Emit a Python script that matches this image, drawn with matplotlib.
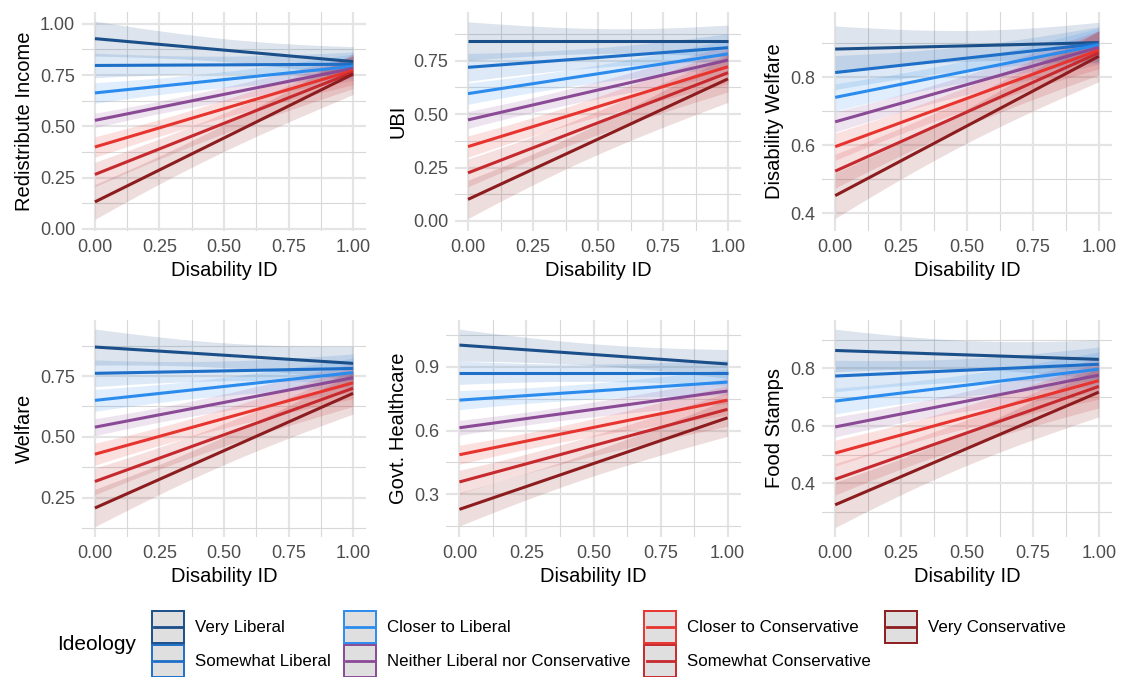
import numpy as np
import matplotlib
matplotlib.use("Agg")
import matplotlib.pyplot as plt
from matplotlib.patches import Rectangle
from matplotlib.lines import Line2D
from matplotlib.legend_handler import HandlerBase

plt.rcParams['font.family'] = ['Liberation Sans', 'DejaVu Sans']

groups = ["Very Liberal", "Somewhat Liberal", "Closer to Liberal",
          "Neither Liberal nor Conservative", "Closer to Conservative",
          "Somewhat Conservative", "Very Conservative"]
colors = ["#1B4F8A", "#1E6FC8", "#2B8CEE", "#8A4A96",
          "#E8342F", "#C62A2E", "#8C1C1E"]

titles = ["Redistribute Income", "UBI", "Disability Welfare",
          "Welfare", "Govt. Healthcare", "Food Stamps"]

# predicted values at Disability ID = 0 and = 1
redist_y0 = [0.928, 0.797, 0.663, 0.529, 0.399, 0.265, 0.131]
redist_y1 = [0.816, 0.803, 0.793, 0.783, 0.773, 0.764, 0.755]
ubi_y0 = [0.842, 0.719, 0.596, 0.473, 0.348, 0.225, 0.101]
ubi_y1 = [0.842, 0.811, 0.782, 0.753, 0.722, 0.694, 0.665]
dwelf_y0 = [0.883, 0.814, 0.741, 0.669, 0.596, 0.524, 0.452]
dwelf_y1 = [0.902, 0.899, 0.895, 0.888, 0.880, 0.872, 0.862]
welf_y0 = [0.869, 0.761, 0.650, 0.540, 0.429, 0.317, 0.208]
welf_y1 = [0.802, 0.781, 0.764, 0.743, 0.722, 0.700, 0.679]
health_y0 = [1.002, 0.872, 0.743, 0.613, 0.486, 0.358, 0.229]
health_y1 = [0.913, 0.872, 0.828, 0.786, 0.743, 0.700, 0.660]
food_y0 = [0.862, 0.773, 0.686, 0.596, 0.505, 0.414, 0.325]
food_y1 = [0.831, 0.814, 0.797, 0.776, 0.757, 0.737, 0.717]

# confidence half-widths at Disability ID = 0 and = 1
redist_w0 = [0.085, 0.06, 0.05, 0.035, 0.05, 0.06, 0.085]
redist_w1 = [0.073, 0.06, 0.06, 0.06, 0.07, 0.08, 0.10]
ubi_w0 = [0.09, 0.065, 0.05, 0.04, 0.05, 0.065, 0.09]
ubi_w1 = [0.075, 0.065, 0.065, 0.07, 0.08, 0.09, 0.11]
dwelf_w0 = [0.068, 0.05, 0.04, 0.03, 0.04, 0.05, 0.067]
dwelf_w1 = [0.06, 0.05, 0.05, 0.05, 0.055, 0.065, 0.075]
welf_w0 = [0.074, 0.055, 0.045, 0.035, 0.045, 0.055, 0.077]
welf_w1 = [0.07, 0.06, 0.06, 0.06, 0.065, 0.075, 0.085]
health_w0 = [0.075, 0.055, 0.045, 0.035, 0.045, 0.055, 0.078]
health_w1 = [0.068, 0.06, 0.06, 0.06, 0.07, 0.08, 0.087]
food_w0 = [0.074, 0.055, 0.045, 0.035, 0.045, 0.055, 0.079]
food_w1 = [0.068, 0.06, 0.06, 0.06, 0.065, 0.075, 0.086]

y0s = [redist_y0, ubi_y0, dwelf_y0, welf_y0, health_y0, food_y0]
y1s = [redist_y1, ubi_y1, dwelf_y1, welf_y1, health_y1, food_y1]
w0s = [redist_w0, ubi_w0, dwelf_w0, welf_w0, health_w0, food_w0]
w1s = [redist_w1, ubi_w1, dwelf_w1, welf_w1, health_w1, food_w1]

yticks = [[0, 0.25, 0.5, 0.75, 1.0], [0, 0.25, 0.5, 0.75], [0.4, 0.6, 0.8],
          [0.25, 0.5, 0.75], [0.3, 0.6, 0.9], [0.4, 0.6, 0.8]]
ylims = [(-0.011, 1.058), (-0.047, 0.978), (0.348, 0.992),
         (0.089, 0.980), (0.099, 1.12), (0.213, 0.968)]

# axes boxes in pixels: left, right, top, bottom
W, H = 1122, 677
boxes = [(82, 366, 12, 231), (455, 741, 12, 231), (822, 1112, 12, 231),
         (82, 366, 320, 537), (446, 741, 320, 537), (822, 1112, 320, 537)]


class KeyHandler(HandlerBase):
    # grey box with coloured border and a line through the middle, like ggplot smooth keys
    def create_artists(self, legend, orig_handle, xdescent, ydescent,
                       width, height, fontsize, trans):
        c = orig_handle.get_color()
        rect = Rectangle((-xdescent, -ydescent), width, height, facecolor='#DFDFDF',
                         edgecolor=c, lw=1.4, transform=trans)
        yc = -ydescent + height / 2
        line = Line2D([-xdescent + 1.5, -xdescent + width - 1.5], [yc, yc],
                      color=c, lw=2.0, transform=trans)
        return [rect, line]


fig = plt.figure(figsize=(W / 100, H / 100), dpi=100)
xs = np.linspace(0, 1, 101)

for i in range(6):
    l, r, t, b = boxes[i]
    ax = fig.add_axes([l / W, 1 - b / H, (r - l) / W, (b - t) / H])
    for k in range(7):
        y = y0s[i][k] + (y1s[i][k] - y0s[i][k]) * xs
        se = np.sqrt((w0s[i][k] * (1 - xs)) ** 2 + (w1s[i][k] * xs) ** 2)
        ax.fill_between(xs, y - se, y + se, color=colors[k], alpha=0.15, lw=0)
    for k in range(7):
        ax.plot([0, 1], [y0s[i][k], y1s[i][k]], color=colors[k], lw=2.2,
                solid_capstyle='butt')
    ax.set_xlim(-0.05, 1.05)
    ax.set_ylim(*ylims[i])
    ax.set_xticks([0, 0.25, 0.5, 0.75, 1.0])
    ax.set_xticklabels(["0.00", "0.25", "0.50", "0.75", "1.00"])
    ax.set_xticks([0.125, 0.375, 0.625, 0.875], minor=True)
    yt = yticks[i]
    step = yt[1] - yt[0]
    ax.set_yticks(yt)
    if step == 0.25:
        ax.set_yticklabels(["%.2f" % v for v in yt])
    else:
        ax.set_yticklabels(["%.1f" % v for v in yt])
    lo, hi = ylims[i]
    minors = [v for v in np.arange(yt[0] - step / 2, hi, step) if lo < v < hi]
    ax.set_yticks(minors, minor=True)
    ax.grid(which='major', color='#E4E4E4', lw=1.6)
    ax.grid(which='minor', color='#D8D8D8', lw=0.8)
    ax.set_axisbelow(True)
    for s in ax.spines.values():
        s.set_visible(False)
    ax.tick_params(which='both', length=0, labelsize=13, labelcolor='#4D4D4D')
    ax.tick_params(axis='x', pad=6)
    ax.tick_params(axis='y', pad=5)
    ax.set_xlabel("Disability ID", fontsize=14.5, labelpad=3)
    ax.set_ylabel(titles[i], fontsize=14.5, labelpad=4)

handles = [Line2D([], [], color=c) for c in colors]
fig.legend(handles, groups, handler_map={Line2D: KeyHandler()},
           ncol=4, loc='upper left', bbox_to_anchor=(152 / W, 1 - 611 / H),
           frameon=False, fontsize=12.2, borderpad=0, borderaxespad=0,
           handlelength=1.89, handleheight=2.52, handletextpad=0.65,
           labelspacing=0.12, columnspacing=0.8)
fig.text(57 / W, 1 - 645 / H, "Ideology", fontsize=15, va='center', ha='left')

fig.savefig("out.png", dpi=100)
